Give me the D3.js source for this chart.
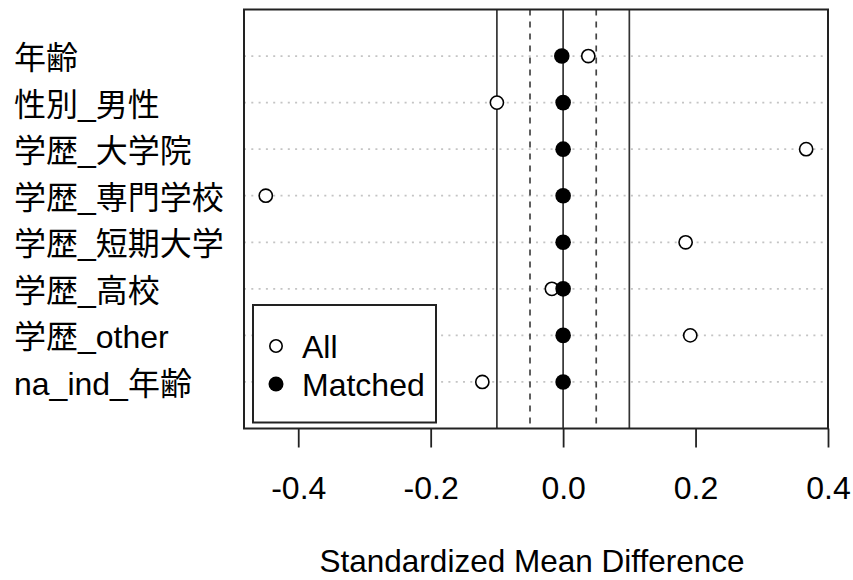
<!DOCTYPE html>
<html>
<head>
<meta charset="utf-8">
<script src="https://cdn.jsdelivr.net/npm/d3@7"></script>
<style>
  html, body { margin: 0; padding: 0; background: #fff; }
  svg { display: block; }
  text { font-family: "Liberation Sans", Arial, "Noto Sans CJK JP", sans-serif; fill: #000; }
</style>
</head>
<body>
<svg id="chart" width="853" height="580"></svg>
<script>
// ---- data ----
const variables = ["年齢", "性別_男性", "学歴_大学院", "学歴_専門学校", "学歴_短期大学", "学歴_高校", "学歴_other", "na_ind_年齢"];
const allValues = [0.038, -0.100, 0.367, -0.449, 0.185, -0.017, 0.192, -0.122];
const matchedValues = [-0.002, 0.000, 0.000, 0.000, 0.000, 0.000, 0.000, 0.000];
const xTicks = [-0.4, -0.2, 0.0, 0.2, 0.4];
const solidRefs = [-0.1, 0, 0.1];
const dashedRefs = [-0.05, 0.05];
const legendLabels = ["All", "Matched"];
const xTitle = "Standardized Mean Difference";

// ---- layout ----
const svg = d3.select("#chart");
const pLeft = 244, pRight = 828, pTop = 9.5, pBottom = 428.5;
const x = d3.scaleLinear().domain([-0.4819, 0.4]).range([pLeft, pRight]);
const y = d3.scaleLinear().domain([0, 9]).range([pBottom, pTop]);
const rowY = i => y(variables.length - i);

// dotted grid lines
svg.append("g").selectAll("line").data(variables).join("line")
  .attr("x1", pLeft).attr("x2", pRight)
  .attr("y1", (d, i) => rowY(i)).attr("y2", (d, i) => rowY(i))
  .attr("stroke", "#c4c4c4").attr("stroke-width", 1.8)
  .attr("stroke-dasharray", "2,5.3");

// reference lines
svg.append("g").selectAll("line").data(solidRefs).join("line")
  .attr("x1", d => x(d)).attr("x2", d => x(d))
  .attr("y1", pTop).attr("y2", pBottom)
  .attr("stroke", "#333").attr("stroke-width", 1.7);
svg.append("g").selectAll("line").data(dashedRefs).join("line")
  .attr("x1", d => x(d)).attr("x2", d => x(d))
  .attr("y1", pTop).attr("y2", pBottom)
  .attr("stroke", "#444").attr("stroke-width", 1.7)
  .attr("stroke-dasharray", "6,6");

// points
svg.append("g").selectAll("circle").data(allValues).join("circle")
  .attr("cx", d => x(d)).attr("cy", (d, i) => rowY(i))
  .attr("r", 6.6).attr("fill", "#fff").attr("stroke", "#000").attr("stroke-width", 1.6);
svg.append("g").selectAll("circle").data(matchedValues).join("circle")
  .attr("cx", d => x(d)).attr("cy", (d, i) => rowY(i))
  .attr("r", 7.8).attr("fill", "#000");

// plot box
svg.append("rect").attr("x", pLeft).attr("y", pTop)
  .attr("width", pRight - pLeft).attr("height", pBottom - pTop)
  .attr("fill", "none").attr("stroke", "#222").attr("stroke-width", 2);

// x axis
const xAxis = d3.axisBottom(x).tickValues(xTicks).tickSize(19)
  .tickFormat(d => d.toFixed(1));
const gx = svg.append("g").attr("transform", `translate(0,${pBottom})`).call(xAxis);
gx.select(".domain").remove();
gx.selectAll(".tick line").attr("stroke", "#222").attr("stroke-width", 1.8);
gx.selectAll(".tick text").attr("y", 70.5).attr("dy", null)
  .attr("font-size", 32).attr("font-family", "'Liberation Sans', Arial, sans-serif").attr("fill", "#000");

// x title
svg.append("text").attr("x", (pLeft + pRight) / 2 - 4).attr("y", 572)
  .attr("text-anchor", "middle").attr("font-size", 31.5).text(xTitle);

// y labels
svg.append("g").selectAll("text").data(variables).join("text")
  .attr("x", 14).attr("y", (d, i) => rowY(i) + 13)
  .attr("font-size", 32).text(d => d);

// legend
const lg = svg.append("g");
lg.append("rect").attr("x", 253).attr("y", 305).attr("width", 183).attr("height", 117.5)
  .attr("fill", "#fff").attr("stroke", "#222").attr("stroke-width", 2);
const legY = [346, 384];
lg.selectAll("text").data(legendLabels).join("text")
  .attr("x", 302).attr("y", (d, i) => legY[i] + 11.5)
  .attr("font-size", 32).text(d => d);
lg.append("circle").attr("cx", 276).attr("cy", legY[0]).attr("r", 6.2)
  .attr("fill", "#fff").attr("stroke", "#000").attr("stroke-width", 1.6);
lg.append("circle").attr("cx", 276).attr("cy", legY[1]).attr("r", 7.5).attr("fill", "#000");
</script>
</body>
</html>
